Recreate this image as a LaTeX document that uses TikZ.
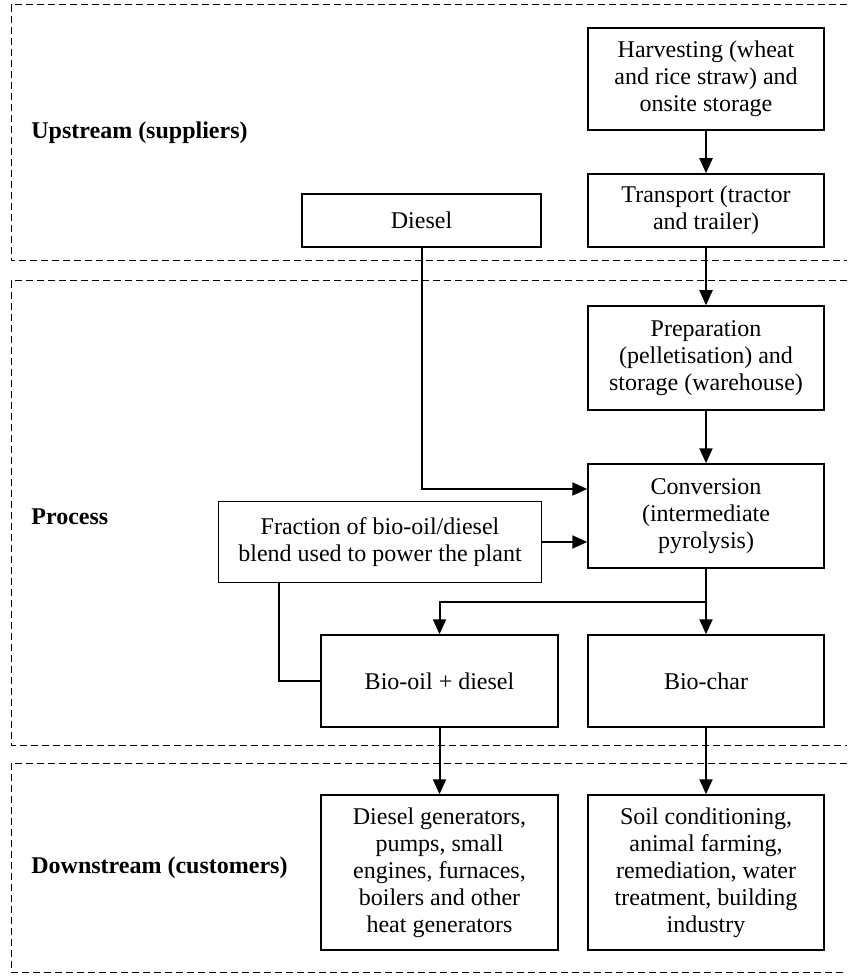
\documentclass[tikz,border=0pt]{standalone}
\usepackage{fontspec}
\setmainfont{Liberation Serif}
\usetikzlibrary{arrows.meta}
\tikzset{
	stage/.style={draw, line width=0.75pt, align=center, inner sep=0pt, font=\fontsize{12}{13.5}\selectfont},
	band/.style={line width=0.5pt, dash pattern=on 3.5pt off 2pt},
	tier/.style={anchor=west, inner sep=0pt, font=\fontsize{12}{13.5}\selectfont\bfseries},
	flow/.style={line width=1pt, -{Triangle[length=7.5pt,width=6.5pt]}},
	link/.style={line width=1pt}
}
\begin{document}
\begin{tikzpicture}[x=0.5pt,y=-0.5pt,line join=miter]
			\useasboundingbox (0,0) rectangle (847,977);
			% bands (open on the right)
			\draw [band] (847,5)--(11,5)--(11,261)--(847,261);
			\draw [band] (847,281)--(11,281)--(11,745)--(847,745);
			\draw [band] (847,763)--(11,763)--(11,972)--(847,972);
			\node [tier] (up) at (31,133) {Upstream (suppliers)};
			\node [tier] (proc) at (31,517) {Process};
			\node [tier] (down) at (31,868) {Downstream (customers)};
			% stages
			\node [stage, minimum width=118pt, minimum height=51pt] (harvest) at (706,79) {Harvesting (wheat\\and rice straw) and\\onsite storage};
			\node [stage, minimum width=118pt, minimum height=36.5pt] (transport) at (706,210.5) {Transport (tractor\\and trailer)};
			\node [stage, minimum width=119.5pt, minimum height=26.5pt] (diesel) at (421.5,220.5) {Diesel};
			\node [stage, minimum width=118pt, minimum height=52pt] (prep) at (706,358) {Preparation\\(pelletisation) and\\storage (warehouse)};
			\node [stage, minimum width=118pt, minimum height=52pt] (conv) at (706,516) {Conversion\\(intermediate\\pyrolysis)};
			\node [stage, minimum width=161.5pt, minimum height=40.5pt] (frac) at (380,542) {Fraction of bio-oil/diesel\\blend used to power the plant};
			\node [stage, minimum width=118.5pt, minimum height=46pt] (biooil) at (439.5,681) {Bio-oil + diesel};
			\node [stage, minimum width=118pt, minimum height=46pt] (biochar) at (706,681) {Bio-char};
			\node [stage, minimum width=118.5pt, minimum height=77.5pt] (gens) at (439.5,872.5) {Diesel generators,\\pumps, small\\engines, furnaces,\\boilers and other\\heat generators};
			\node [stage, minimum width=118pt, minimum height=77.5pt] (soil) at (706,872.5) {Soil conditioning,\\animal farming,\\remediation, water\\treatment, building\\industry};
			\coordinate (split) at (706,602);
			% flows
			\draw [flow] (harvest)--(transport);
			\draw [flow] (transport)--(prep);
			\draw [flow] (prep)--(conv);
			\draw [flow] (diesel.south) |- ([yshift=13.5pt]conv.west);
			\draw [flow] (frac.east)--(frac.east -| conv.west);
			\draw [flow] (conv)--(biochar);
			\draw [flow] (split) -| (biooil.north);
			\draw [link] ([xshift=-50.5pt]frac.south) |- (biooil.west);
			\draw [flow] (biooil)--(gens);
			\draw [flow] (biochar)--(soil);
		\end{tikzpicture}
\end{document}
